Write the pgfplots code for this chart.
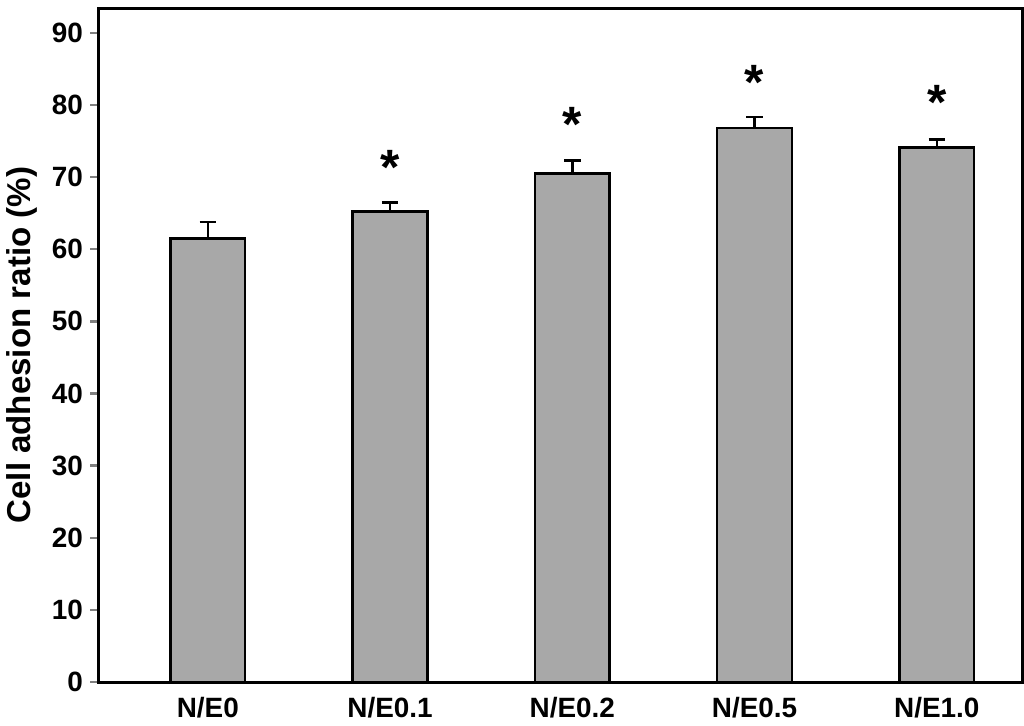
\documentclass[border=0pt]{standalone}
\usepackage{pgfplots}
\pgfplotsset{compat=1.18}
\usepackage{fontspec}
\setmainfont{Liberation Sans}
\begin{document}
\begin{tikzpicture}
\begin{axis}[
  scale only axis, width=447pt, height=326pt,
  xmin=-0.6, xmax=4.47, ymin=0, ymax=93.4,
  xtick={0,1,2,3,4},
  xticklabels={N/E0,N/E0.1,N/E0.2,N/E0.5,N/E1.0},
  ytick={0,10,...,90}, ytick pos=left,
  tick align=outside, major tick length=4pt,
  xtick style={draw=none},
  ytick style={line width=1.2pt},
  axis line style={line width=1.5pt},
  tick label style={font=\bfseries\fontsize{13.5}{15}\selectfont},
  /pgf/number format/assume math mode=true,
  ylabel={\bfseries Cell adhesion ratio (\%)},
  ylabel style={font=\bfseries\fontsize{16}{18}\selectfont},
]
\addplot[ybar, bar width=0.41, fill={rgb,255:red,168;green,168;blue,168}, draw=black, line width=1.2pt,
  error bars/.cd, y dir=plus, y explicit, error bar style={line width=1.2pt}, error mark options={rotate=90,mark size=4pt,line width=1.2pt}]
coordinates {(0,61.5) +- (0,2.3) (1,65.2) +- (0,1.3) (2,70.5) +- (0,1.8) (3,76.8) +- (0,1.5) (4,74.1) +- (0,1.1)};
\addplot[only marks, mark=none, nodes near coords={\bfseries\fontsize{24}{24}\selectfont *}, nodes near coords align={center}]
coordinates {(1,71.3) (2,77.3) (3,83.1) (4,80.3)};
\end{axis}
\end{tikzpicture}
\end{document}
